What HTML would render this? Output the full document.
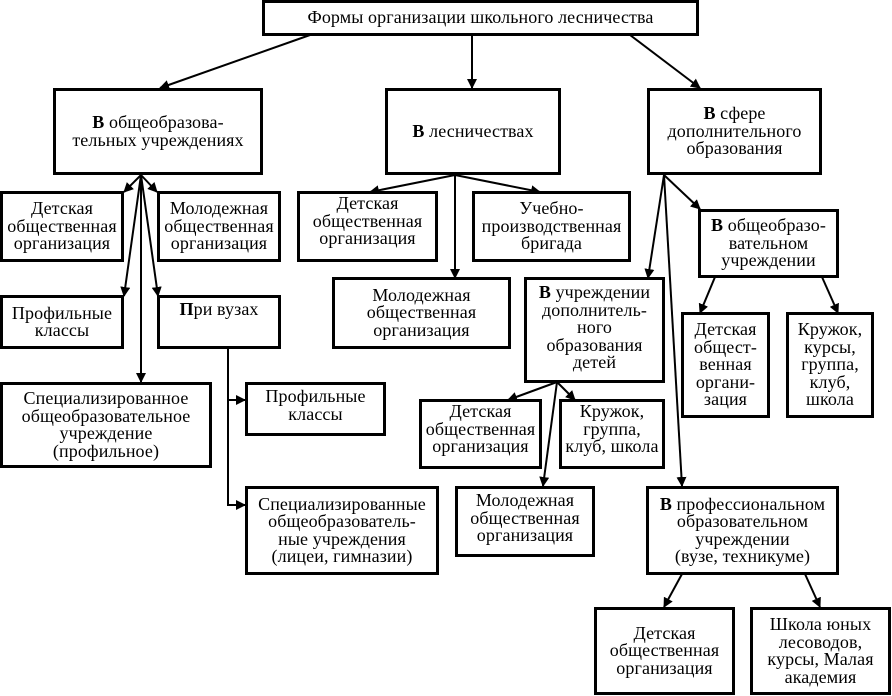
<!DOCTYPE html>
<html><head><meta charset="utf-8"><style>
body{margin:0;width:892px;height:696px;background:#fff;position:relative;overflow:hidden;font-family:"Liberation Serif","DejaVu Serif",serif;}
.b{position:absolute;box-sizing:border-box;border:3px solid #000;display:flex;align-items:center;justify-content:center;text-align:center;font-size:18px;line-height:17.5px;letter-spacing:0.1px;color:#000;background:#fff;white-space:nowrap;}
.t{align-items:flex-start;padding-top:3px}
svg{position:absolute;left:0;top:0}
</style></head><body>
<svg width="892" height="696">
<defs><marker id="a" markerWidth="10" markerHeight="10" refX="9" refY="5" orient="auto" markerUnits="userSpaceOnUse"><path d="M0,0L10,5L0,10z"/></marker></defs>
<g stroke="#000" stroke-width="2" fill="none" marker-end="url(#a)">
<line x1="310" y1="35" x2="160" y2="88"/>
<line x1="472" y1="35" x2="472" y2="88"/>
<line x1="630" y1="35" x2="700" y2="88"/>
<line x1="141" y1="175" x2="124" y2="192"/>
<line x1="141" y1="175" x2="157" y2="192"/>
<line x1="141" y1="175" x2="124" y2="296"/>
<line x1="141" y1="175" x2="158" y2="296"/>
<line x1="141" y1="175" x2="141" y2="382"/>
<polyline points="228,348 228,400 245,400" marker-end="none"/>
<line x1="228" y1="400" x2="245" y2="400"/>
<polyline points="228,400 228,505 245,505" />
<line x1="455" y1="175" x2="370" y2="192"/>
<line x1="455" y1="175" x2="540" y2="192"/>
<line x1="455" y1="175" x2="455" y2="278"/>
<line x1="664" y1="175" x2="648" y2="278"/>
<line x1="664" y1="175" x2="700" y2="209"/>
<line x1="664" y1="175" x2="682" y2="486"/>
<line x1="715" y1="277" x2="700" y2="313"/>
<line x1="822" y1="277" x2="838" y2="313"/>
<line x1="557" y1="382" x2="508" y2="400"/>
<line x1="557" y1="382" x2="575" y2="400"/>
<line x1="557" y1="382" x2="543" y2="486"/>
<line x1="682" y1="574" x2="664" y2="607"/>
<line x1="805" y1="574" x2="820" y2="607"/>
</g></svg>
<div class="b" style="left:262px;top:0;width:437px;height:36px">Формы организации школьного лесничества</div>
<div class="b" style="left:53px;top:88px;width:210px;height:87px"><span><b>В</b> общеобразова-<br>тельных учреждениях</span></div>
<div class="b" style="left:385px;top:88px;width:176px;height:87px"><span><b>В</b> лесничествах</span></div>
<div class="b" style="left:647px;top:88px;width:175px;height:87px"><span><b>В</b> сфере<br>дополнительного<br>образования</span></div>
<div class="b" style="left:0;top:191px;width:124px;height:71px">Детская<br>общественная<br>организация</div>
<div class="b" style="left:157px;top:191px;width:124px;height:71px">Молодежная<br>общественная<br>организация</div>
<div class="b" style="left:0;top:295px;width:124px;height:54px">Профильные<br>классы</div>
<div class="b t" style="left:157px;top:295px;width:124px;height:54px"><span><b>П</b>ри вузах</span></div>
<div class="b" style="left:0;top:382px;width:212px;height:86px">Специализированное<br>общеобразовательное<br>учреждение<br>(профильное)</div>
<div class="b t" style="left:245px;top:382px;width:141px;height:54px">Профильные<br>классы</div>
<div class="b" style="left:245px;top:486px;width:194px;height:89px">Специализированные<br>общеобразователь-<br>ные учреждения<br>(лицеи, гимназии)</div>
<div class="b t" style="left:297px;top:191px;width:141px;height:71px;padding-top:1px">Детская<br>общественная<br>организация</div>
<div class="b" style="left:472px;top:191px;width:159px;height:71px">Учебно-<br>производственная<br>бригада</div>
<div class="b" style="left:332px;top:277px;width:179px;height:72px">Молодежная<br>общественная<br>организация</div>
<div class="b t" style="left:524px;top:277px;width:141px;height:106px;padding-top:4px"><span><b>В</b> учреждении<br>дополнитель-<br>ного<br>образования<br>детей</span></div>
<div class="b" style="left:698px;top:209px;width:141px;height:69px"><span><b>В</b> общеобразо-<br>вательном<br>учреждении</span></div>
<div class="b" style="left:681px;top:312px;width:89px;height:106px">Детская<br>общест-<br>венная<br>органи-<br>зация</div>
<div class="b" style="left:786px;top:312px;width:88px;height:106px">Кружок,<br>курсы,<br>группа,<br>клуб,<br>школа</div>
<div class="b t" style="left:419px;top:399px;width:123px;height:70px;padding-top:1px">Детская<br>общественная<br>организация</div>
<div class="b t" style="left:559px;top:399px;width:106px;height:70px;padding-top:1px">Кружок,<br>группа,<br>клуб, школа</div>
<div class="b t" style="left:455px;top:486px;width:140px;height:71px">Молодежная<br>общественная<br>организация</div>
<div class="b" style="left:646px;top:486px;width:193px;height:89px"><span><b>В</b> профессиональном<br>образовательном<br>учреждении<br>(вузе, техникуме)</span></div>
<div class="b" style="left:594px;top:607px;width:141px;height:88px">Детская<br>общественная<br>организация</div>
<div class="b" style="left:750px;top:607px;width:141px;height:88px">Школа юных<br>лесоводов,<br>курсы, Малая<br>академия</div>
</body></html>
